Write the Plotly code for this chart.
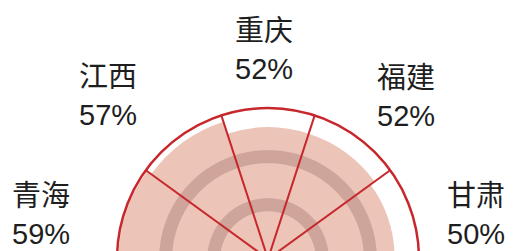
import plotly.graph_objects as go

# Data (visible sectors, right to left / counter-clockwise from east)
provinces = ["甘肃", "福建", "重庆", "江西", "青海"]
shares = [50, 52, 52, 57, 59]  # percent

# Style / layout constants
SECTOR_WIDTH = 36          # degrees per sector (10 sectors in full rose)
FIRST_CENTER = 18          # degrees, centre of first visible sector
R_MAX = 59.6
BAND_RADII = [21.4, 40.4]  # darker concentric bands (data units)
FILL = "#ecc5b8"
BAND = "rgba(178,132,125,0.5)"
RED = "#c7262b"
TEXT = "#1e1e1e"

thetas = [FIRST_CENTER + SECTOR_WIDTH * i for i in range(len(provinces))]
bounds = [FIRST_CENTER + SECTOR_WIDTH * i + SECTOR_WIDTH / 2 for i in range(len(provinces) - 1)]

fig = go.Figure()
fig.add_trace(go.Barpolar(
    r=shares, theta=thetas, width=[SECTOR_WIDTH] * len(shares),
    marker=dict(color=FILL, line=dict(width=0)),
    hoverinfo="skip", showlegend=False,
))

arc = [i * 0.5 for i in range(361)]
for rb in BAND_RADII:
    fig.add_trace(go.Scatterpolar(
        r=[rb] * len(arc), theta=arc, mode="lines",
        line=dict(color=BAND, width=13), hoverinfo="skip", showlegend=False,
    ))

sr, st = [], []
for b in bounds:
    sr += [0, R_MAX, None]
    st += [b, b, None]
fig.add_trace(go.Scatterpolar(
    r=sr, theta=st, mode="lines", line=dict(color=RED, width=2),
    hoverinfo="skip", showlegend=False,
))

W, H = 516, 251
cx, cy, R = 260, 251, 151
fig.update_layout(
    width=W, height=H, margin=dict(l=0, r=0, t=0, b=0),
    paper_bgcolor="white", plot_bgcolor="white",
    polar=dict(
        sector=[0, 180],
        domain=dict(x=[(cx - R) / W, (cx + R) / W], y=[(H - cy) / H, (H - cy + R) / H]),
        bgcolor="rgba(0,0,0,0)",
        radialaxis=dict(range=[0, R_MAX], visible=False),
        angularaxis=dict(showline=True, linecolor=RED, linewidth=2.5,
                         showgrid=False, showticklabels=False, ticks=""),
    ),
)

# label positions (paper px) – style, not data
label_pos = [(468, 207), (398, 89), (256, 42), (100, 88), (33, 207)]
for name, val, (x, y) in zip(provinces, shares, label_pos):
    fig.add_annotation(
        x=x / W, y=1 - y / H, xref="paper", yref="paper",
        text=f"{name}<br>{val}%", showarrow=False,
        xanchor="center", yanchor="middle",
        font=dict(family="Liberation Sans, Noto Sans CJK SC", size=29, color=TEXT),
    )

fig.write_html("out.html")
